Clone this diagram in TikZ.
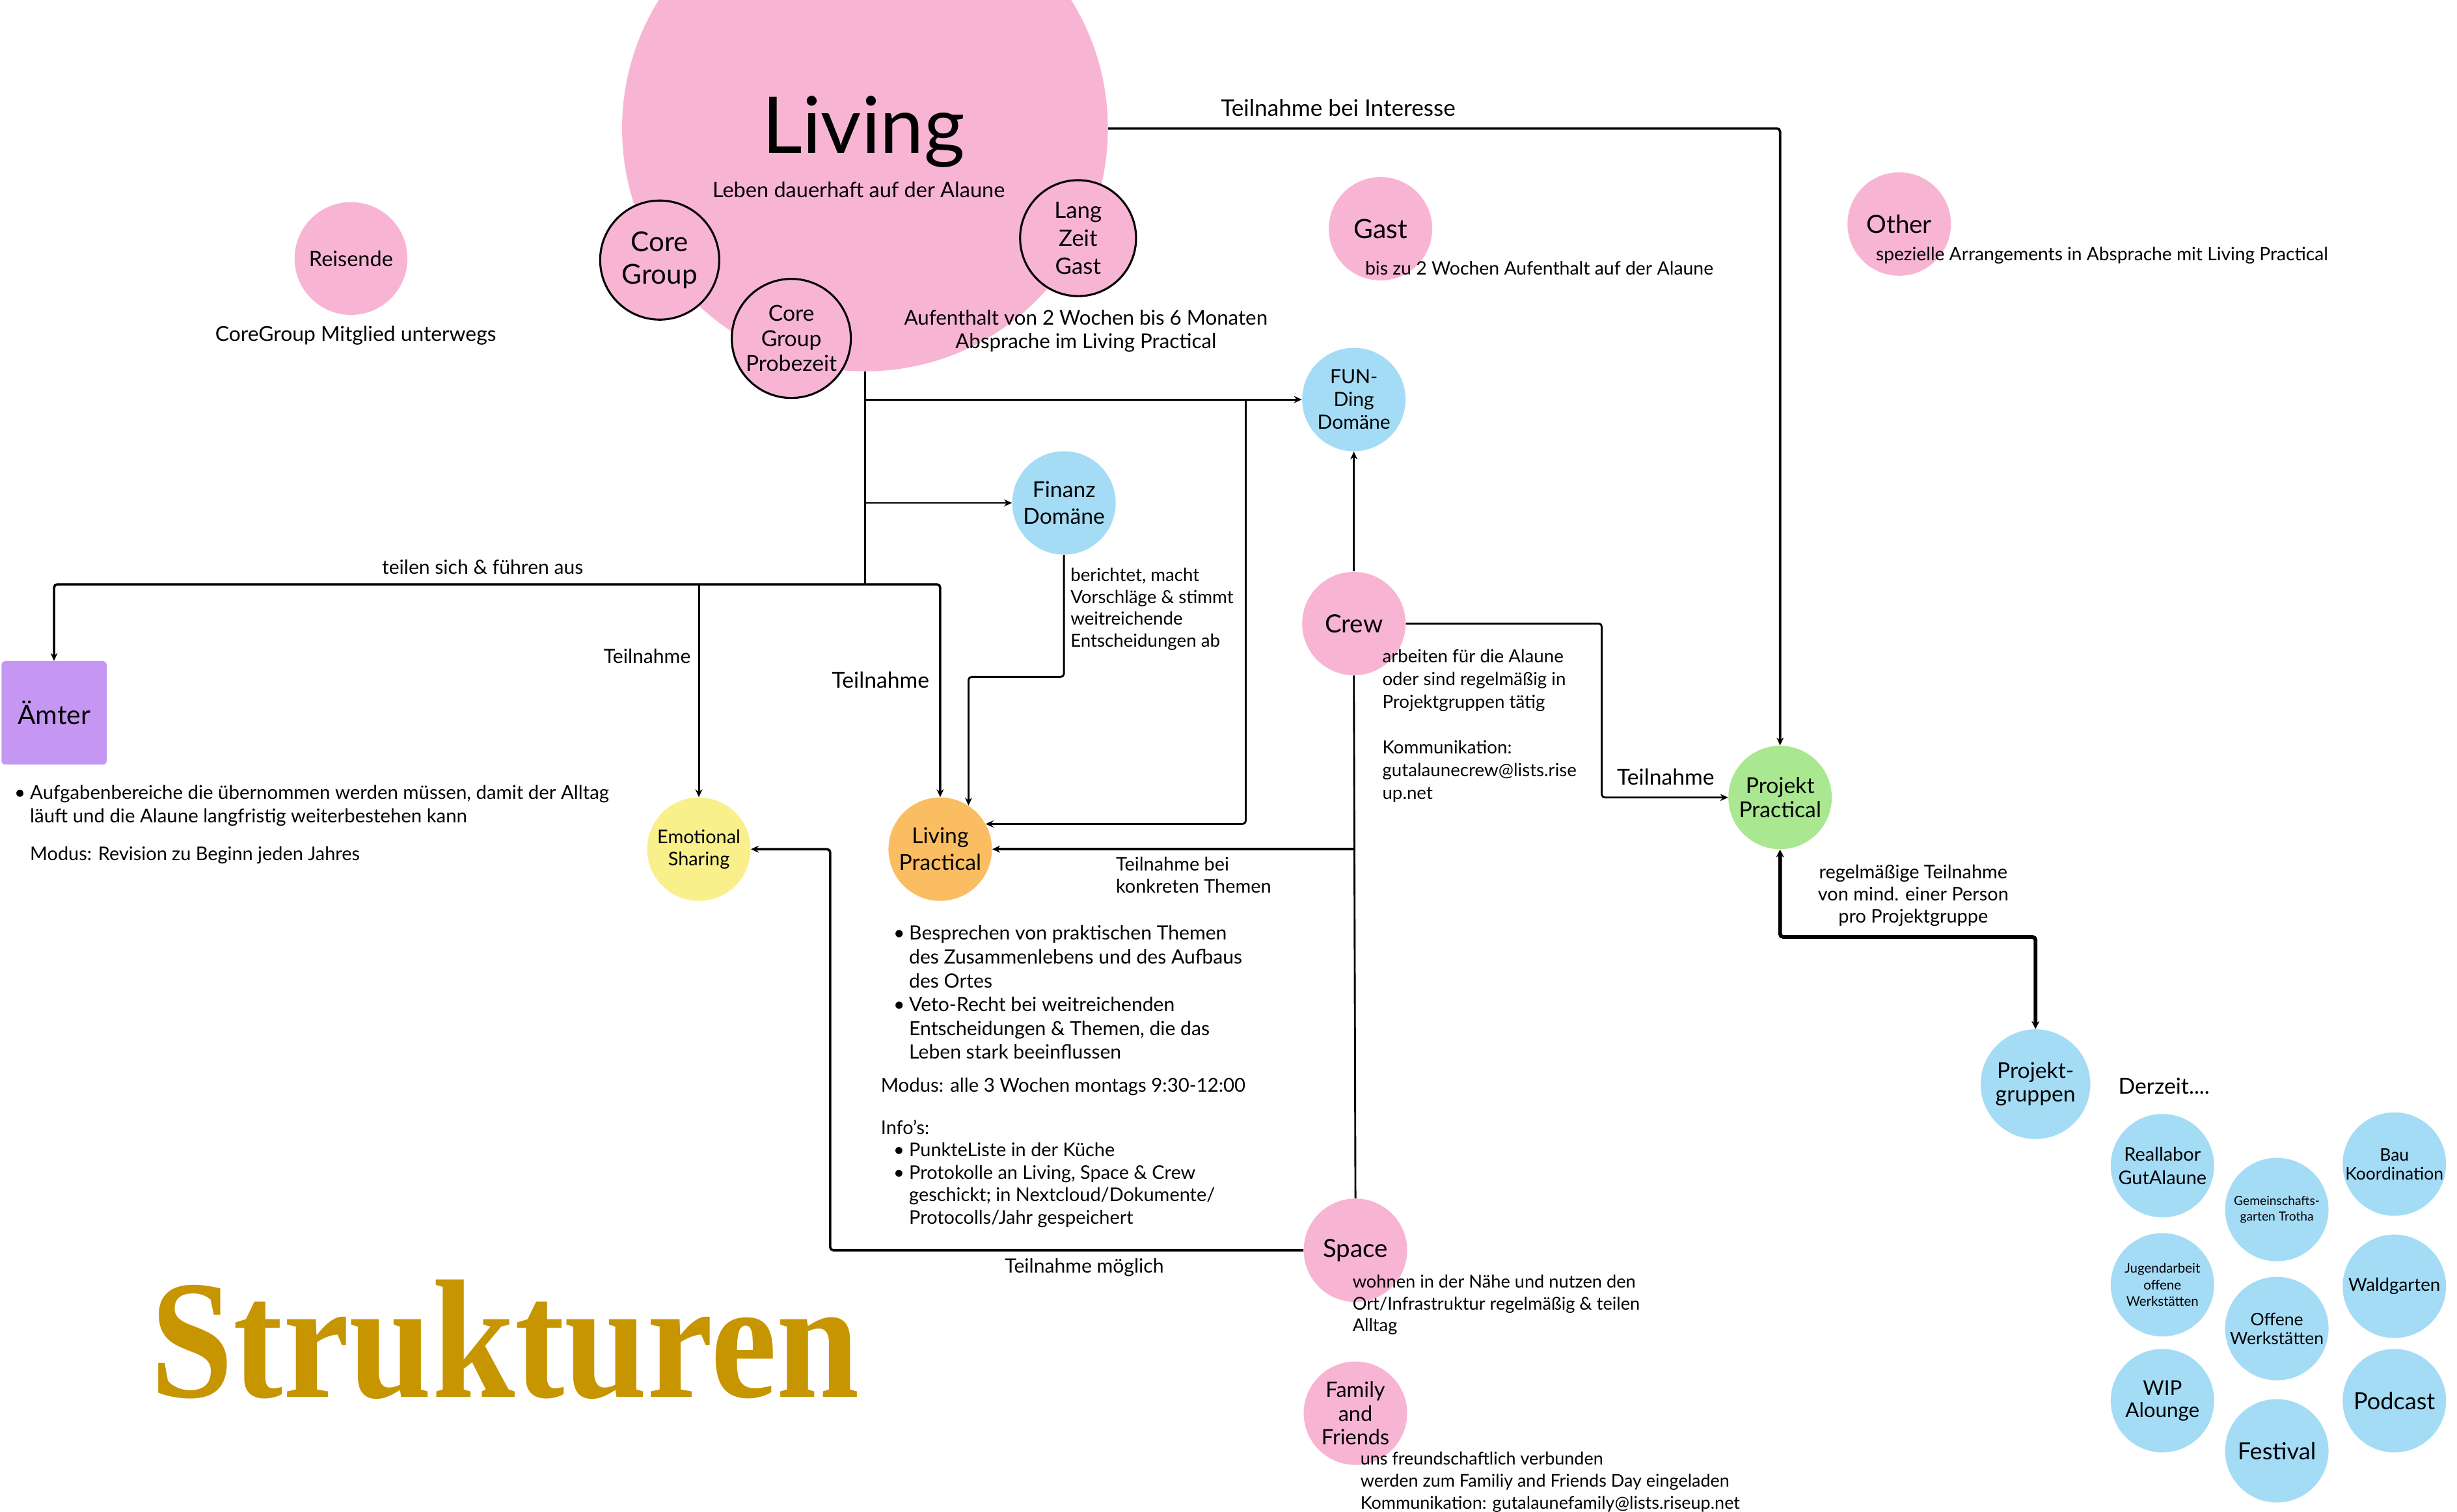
\documentclass[tikz,border=0pt]{standalone}
\usepackage{fontspec}
\usepackage{graphicx}
\setmainfont{Lato}
\newfontfamily\titlefont{Liberation Serif}
\usetikzlibrary{arrows.meta}
\definecolor{pinkc}{HTML}{F8B4D3}
\definecolor{bluec}{HTML}{A4DCF6}
\definecolor{greenc}{HTML}{A9E890}
\definecolor{yellowc}{HTML}{F9F08B}
\definecolor{orangec}{HTML}{FBBD62}
\definecolor{purplec}{HTML}{C597F3}
\definecolor{goldc}{HTML}{C79500}
\newcommand\fsz[2]{\fontsize{#1}{#2}\selectfont}
\newcommand\lns[1]{\vtop{\halign{##\hfil\cr#1\crcr}}}
\newcommand\clns[1]{\vtop{\halign{\hfil##\hfil\cr#1\crcr}}}
\newcommand\bul{\makebox[10pt][l]{•}}
\newcommand\ind{\hspace*{10pt}}
\tikzset{
  bub/.style={circle, inner sep=0pt, minimum size=66pt, align=center},
  pk/.style={bub, fill=pinkc},
  bl/.style={bub, fill=bluec},
  ol/.style={draw=black, line width=1.3pt},
  lbl/.style={inner sep=0pt, anchor=base west},
  clbl/.style={inner sep=0pt, anchor=base},
  con/.style={line width=1.2pt, rounded corners=2pt},
  arr/.style={con, -{Stealth[length=5pt,width=4.5pt]}},
}
\begin{document}
\begin{tikzpicture}[x=1pt,y=-1pt]
\useasboundingbox (0,0) rectangle (1568,965);
\clip (0,0) rectangle (1568,965);
\fill[white] (0,0) rectangle (1568,965);

% Living
\node[pk, minimum size=310pt] (living) at (552,82) {};
\node[inner sep=0pt, font=\fsz{50}{60}] (livingt) at (551,84) {Living};
\node[inner sep=0pt, font=\fsz{13.5}{15}] (livingd) at (548,121) {Leben dauerhaft auf der Alaune};
\node[pk, ol, minimum size=76pt, font=\fsz{17.5}{21}] (core) at (421,166) {Core\\Group};
\node[pk, ol, minimum size=76pt, font=\fsz{14}{16}] (probe) at (505,216) {Core\\Group\\Probezeit};
\node[pk, ol, minimum size=74pt, font=\fsz{14.5}{18}] (lzg) at (688,152) {Lang\\Zeit\\Gast};
\node[clbl, font=\fsz{13}{15}] (lzgt) at (693,207.5) {\clns{Aufenthalt von 2 Wochen bis 6 Monaten\cr Absprache im Living Practical}};

% Reisende
\node[pk, minimum size=72pt, font=\fsz{13.5}{16}] (reis) at (224,165) {Reisende};
\node[inner sep=0pt, font=\fsz{13.2}{15}] (reist) at (227,214) {CoreGroup Mitglied unterwegs};

% Gast, Other
\node[pk, font=\fsz{17}{20}] (gast) at (881,146) {Gast};
\node[inner sep=0pt, anchor=west, font=\fsz{11.8}{14}] (gastt) at (871,171) {bis zu 2 Wochen Aufenthalt auf der Alaune};
\node[pk, font=\fsz{16}{19}] (other) at (1212,143) {Other};
\node[inner sep=0pt, anchor=west, font=\fsz{11.7}{14}] (othert) at (1197,163) {spezielle Arrangements in Absprache mit Living Practical};

% domains
\node[bl, font=\fsz{12.5}{14.5}] (fun) at (864,255) {FUN-\\Ding\\Domäne};
\node[bl, font=\fsz{14}{17}] (fin) at (679,321) {Finanz\\Domäne};
\node[pk, font=\fsz{16}{19}] (crew) at (864,398) {Crew};

% Aemter
\node[fill=purplec, rounded corners=2pt, minimum width=67pt, minimum height=66pt, inner sep=0pt, font=\fsz{17}{20}] (aemter) at (34.5,455) {Ämter};

% middle circles
\node[bub, fill=yellowc, font=\fsz{12}{14}] (es) at (446,542) {Emotional\\Sharing};
\node[bub, fill=orangec, font=\fsz{14}{17}] (lp) at (600,542) {Living\\Practical};
\node[bub, fill=greenc, font=\fsz{14}{15}] (pp) at (1136,509) {Projekt\\Practical};
\node[bl, minimum size=70pt, font=\fsz{14}{15}] (pg) at (1299,692) {Projekt-\\gruppen};
\node[pk, font=\fsz{16}{19}] (space) at (865,798) {Space};
\node[pk, font=\fsz{13.5}{15}] (ff) at (865,902) {Family\\and\\Friends};

% project groups
\node[bl, font=\fsz{12}{15}] (real) at (1380,744) {Reallabor\\GutAlaune};
\node[bl, font=\fsz{8}{10}] (gem) at (1453,772) {Gemeinschafts-\\garten Trotha};
\node[bl, font=\fsz{11}{12}] (bau) at (1528,743) {Bau\\Koordination};
\node[bl, font=\fsz{8.5}{10.5}] (jug) at (1380,820) {Jugendarbeit\\offene\\Werkstätten};
\node[bl, font=\fsz{11}{12}] (off) at (1453,848) {Offene\\Werkstätten};
\node[bl, font=\fsz{11.5}{13}] (wald) at (1528,821) {Waldgarten};
\node[bl, font=\fsz{13}{14}] (wip) at (1380,894) {WIP\\Alounge};
\node[bl, font=\fsz{15}{17}] (fest) at (1453,926) {Festival};
\node[bl, font=\fsz{15}{17}] (pod) at (1528,894) {Podcast};
\node[inner sep=0pt, font=\fsz{14}{16}] (derz) at (1381,693) {Derzeit....};

% junctions
\coordinate (j1) at (552,373);
\coordinate (c1) at (795,255);

% connectors
\draw[con] (living.south) -- (j1);
\draw[arr] (living.south |- fun.west) -- (fun.west);
\draw[arr] (living.south |- fin.west) -- (fin.west);
\draw[arr, line width=1.5pt] (j1) -| (aemter.north);
\draw[arr] (es.north |- j1) -- (es.north);
\draw[arr, line width=1.5pt] (j1) -| (lp.north);
\draw[arr] (fin.south) -- (fin.south |- 0,432) -| (lp.57);
\draw[arr] (c1) |- (lp.29);
\draw[arr] (crew.north) -- (fun.south);
\draw[con] (crew.south) -- (space.north);
\draw[arr, line width=1.5pt] (crew.south |- lp.east) -- (lp.east);
\draw[arr] (crew.east) -- ++(125,0) |- (pp.west);
\draw[arr, line width=1.5pt] (living.east) -| (pp.north);
\draw[con, line width=2.4pt, {Stealth[length=5pt,width=5pt]}-{Stealth[length=5pt,width=5pt]}] (pp.south) |- (pg.north |- 0,598) -- (pg.north);
\draw[arr, line width=1.5pt] (space.west) -- ++(-302,0) |- (es.east);

% connector labels
\node[inner sep=0pt, font=\fsz{14.6}{16}] (l1) at (854,69) {Teilnahme bei Interesse};
\node[inner sep=0pt, font=\fsz{12.5}{15}] (l2) at (308,362) {teilen sich \& führen aus};
\node[inner sep=0pt, font=\fsz{12.5}{15}] (l3) at (413,419) {Teilnahme};
\node[inner sep=0pt, font=\fsz{14}{16}] (l4) at (562,434) {Teilnahme};
\node[inner sep=0pt, font=\fsz{14}{16}] (l5) at (1063,496) {Teilnahme};
\node[lbl, font=\fsz{11.5}{14}] (l6) at (683,371) {\lns{berichtet, macht\cr Vorschläge \& stimmt\cr weitreichende\cr Entscheidungen ab}};
\node[lbl, font=\fsz{12}{14}] (l7) at (712,556) {\lns{Teilnahme bei\cr konkreten Themen}};
\node[inner sep=0pt, font=\fsz{12.5}{15}] (l8) at (692,809) {Teilnahme möglich};
\node[clbl, font=\fsz{12}{14}] (l9) at (1221,561) {\clns{regelmäßige Teilnahme\cr von mind. einer Person\cr pro Projektgruppe}};

% descriptions
\node[lbl, font=\fsz{11.5}{14.5}] (crewt) at (882,423) {\lns{arbeiten für die Alaune\cr oder sind regelmäßig in\cr Projektgruppen tätig\cr\noalign{\vskip14.5pt} Kommunikation:\cr gutalaunecrew@lists.rise\cr up.net}};
\node[lbl, font=\fsz{12.2}{15}] (aemtert) at (9,510) {\lns{\bul Aufgabenbereiche die übernommen werden müssen, damit der Alltag\cr \ind läuft und die Alaune langfristig weiterbestehen kann}};
\node[lbl, font=\fsz{12}{15}] (aemterm) at (19,549) {Modus: Revision zu Beginn jeden Jahres};
\node[lbl, font=\fsz{12.5}{15.2}] (lpt) at (570,600) {\lns{\bul Besprechen von praktischen Themen\cr \ind des Zusammenlebens und des Aufbaus\cr \ind des Ortes\cr \bul Veto-Recht bei weitreichenden\cr \ind Entscheidungen \& Themen, die das\cr \ind Leben stark beeinflussen}};
\node[lbl, font=\fsz{12.2}{15}] (lpm) at (562,697) {Modus: alle 3 Wochen montags 9:30-12:00};
\node[lbl, font=\fsz{12}{14.3}] (lpi) at (562,724) {\lns{Info's:\cr \hspace*{8pt}\bul PunkteListe in der Küche\cr \hspace*{8pt}\bul Protokolle an Living, Space \& Crew\cr \hspace*{8pt}\ind geschickt; in Nextcloud/Dokumente/\cr \hspace*{8pt}\ind Protocolls/Jahr gespeichert}};
\node[lbl, font=\fsz{11.3}{14}] (spacet) at (863,822) {\lns{wohnen in der Nähe und nutzen den\cr Ort/Infrastruktur regelmäßig \& teilen\cr Alltag}};
\node[lbl, font=\fsz{11.2}{14}] (fft) at (868,935) {\lns{uns freundschaftlich verbunden\cr werden zum Familiy and Friends Day eingeladen\cr Kommunikation: gutalaunefamily@lists.riseup.net}};

% title
\node[inner sep=0pt, anchor=west, text=goldc, font=\titlefont\bfseries\fsz{108}{110}] (title) at (96,855) {\scalebox{0.88}[1]{Strukturen}};
\end{tikzpicture}
\end{document}
